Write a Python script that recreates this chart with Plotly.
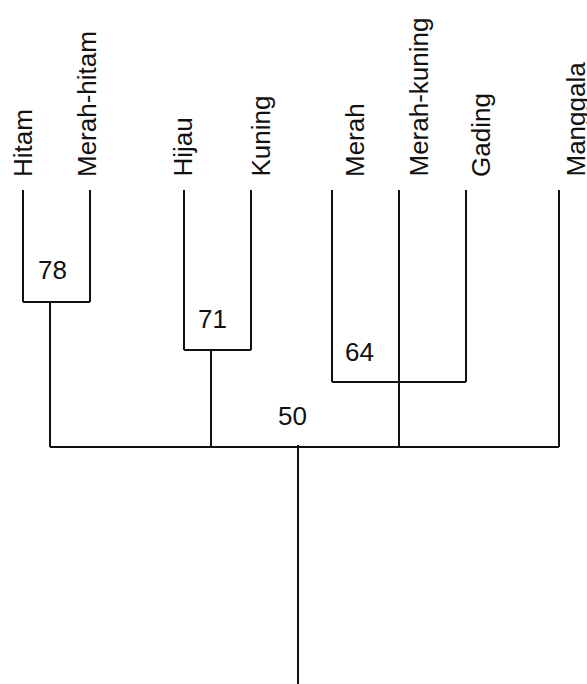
import plotly.graph_objects as go

# Taxa along the top of the cladogram, left to right
taxa = ["Hitam", "Merah-hitam", "Hijau", "Kuning",
        "Merah", "Merah-kuning", "Gading", "Manggala"]
taxon_pos = [23, 90, 184, 251, 332, 399, 466, 559]

# Clades: members (indices into taxa), support value, branching depth, stem position
clade_members = [[0, 1], [2, 3], [4, 6]]
clade_support = [78, 71, 64]
clade_depth = [302, 350, 382]
clade_stem = [50, 211, 399]

# Basal node joining all groups
base_support = 50
base_depth = 447
base_joined = [50, 211, 399, 559]
root_pos = 298
tip_depth = 190
root_end = 684

xs, ys = [], []


def seg(x0, y0, x1, y1):
    xs.extend([x0, x1, None])
    ys.extend([y0, y1, None])


# Terminal branches drop from the tips to their clade (or the base)
clade_of = {}
for k, members in enumerate(clade_members):
    for m in members:
        clade_of[m] = k
for i, x in enumerate(taxon_pos):
    end = clade_depth[clade_of[i]] if i in clade_of else base_depth
    if taxa[i] == "Merah-kuning":
        end = base_depth
    seg(x, tip_depth, x, end)

# Clade crossbars and stems down to the base
for k, members in enumerate(clade_members):
    xl = taxon_pos[members[0]]
    xr = taxon_pos[members[-1]]
    seg(xl, clade_depth[k], xr, clade_depth[k])
    seg(clade_stem[k], clade_depth[k], clade_stem[k], base_depth)

# Base crossbar and root
seg(min(base_joined), base_depth, max(base_joined), base_depth)
seg(root_pos, base_depth - 2, root_pos, root_end)

fig = go.Figure(go.Scatter(
    x=xs, y=ys, mode="lines",
    line=dict(color="#111111", width=2),
    hoverinfo="skip", showlegend=False,
))

font = dict(family="Liberation Sans, Arial, sans-serif", size=26, color="#111111")

# Taxon names, rotated, sitting above each tip
label_shift = [0, -3, -2, 9, 23, 19, 15, 16]
for name, x, dx in zip(taxa, taxon_pos, label_shift):
    fig.add_annotation(
        x=x + dx, y=tip_depth - 11, text=name, textangle=-90,
        xanchor="center", yanchor="bottom", showarrow=False, font=font,
    )

# Support values beside each node
support_xy = [(52, 270), (212, 319), (359, 352)]
for val, (x, y) in zip(clade_support, support_xy):
    fig.add_annotation(x=x, y=y, text=str(val), showarrow=False,
                       xanchor="center", yanchor="middle", font=font)
fig.add_annotation(x=292, y=416, text=str(base_support), showarrow=False,
                   xanchor="center", yanchor="middle", font=font)

fig.update_layout(
    width=587, height=684,
    margin=dict(l=0, r=0, t=0, b=0),
    paper_bgcolor="white", plot_bgcolor="white",
    xaxis=dict(range=[0, 587], visible=False, fixedrange=True),
    yaxis=dict(range=[684, 0], visible=False, fixedrange=True),
)

fig.write_html("out.html")
